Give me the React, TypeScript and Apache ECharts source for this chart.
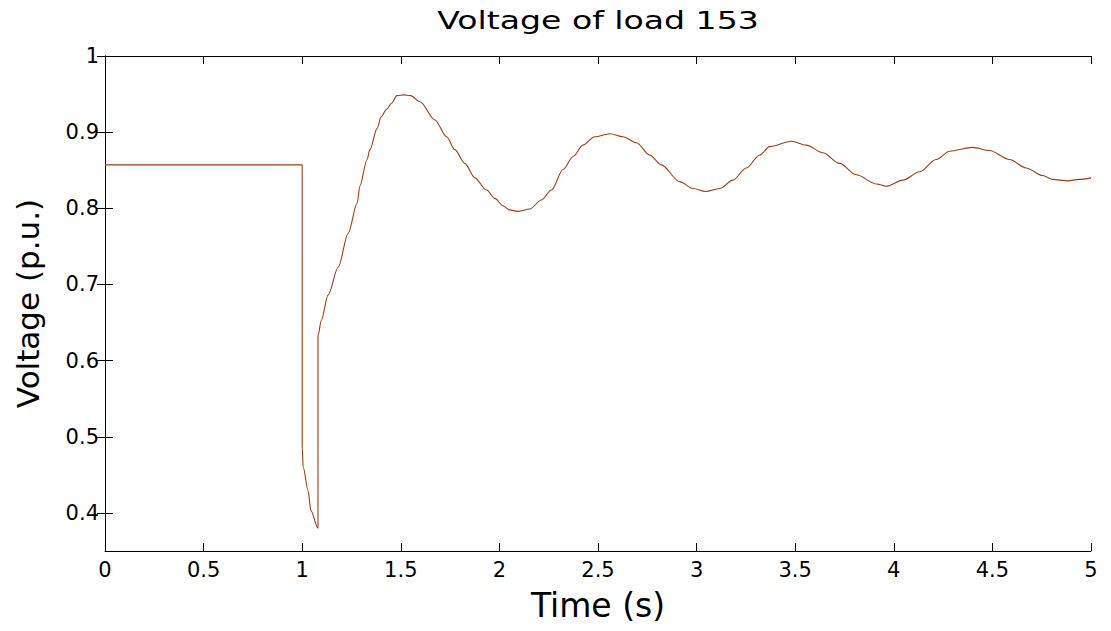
import React, { useEffect, useRef } from "react";
import * as echarts from "echarts";

const timeS: number[] = [
  0, 1.0, 1.0, 1.005, 1.03, 1.044, 1.08, 1.08, 1.097, 1.131, 1.183, 1.233, 1.279, 1.292, 1.329,
  1.343, 1.38, 1.4, 1.428, 1.453, 1.48, 1.515, 1.55, 1.597, 1.673, 1.732, 1.774, 1.825, 1.875,
  1.935, 1.977, 2.02, 2.05, 2.095, 2.154, 2.213, 2.264, 2.323, 2.374, 2.424, 2.483, 2.56, 2.627,
  2.695, 2.762, 2.821, 2.914, 2.982, 3.046, 3.117, 3.184, 3.252, 3.32, 3.37, 3.48, 3.556, 3.64,
  3.725, 3.81, 3.911, 3.962, 4.046, 4.131, 4.215, 4.283, 4.4, 4.485, 4.587, 4.671, 4.755, 4.806,
  4.88, 4.94, 5.0,
];

const voltagePU: number[] = [
  0.857, 0.857, 0.486, 0.46, 0.429, 0.403, 0.38, 0.633, 0.653, 0.686, 0.723, 0.767, 0.807, 0.829,
  0.864, 0.877, 0.905, 0.92, 0.93, 0.938, 0.948, 0.949, 0.948, 0.94, 0.916, 0.894, 0.877, 0.859,
  0.84, 0.824, 0.813, 0.803, 0.798, 0.796, 0.799, 0.811, 0.824, 0.851, 0.868, 0.883, 0.894, 0.898,
  0.894, 0.886, 0.87, 0.857, 0.835, 0.826, 0.822, 0.826, 0.837, 0.853, 0.87, 0.881, 0.888, 0.883,
  0.873, 0.859, 0.844, 0.832, 0.829, 0.837, 0.848, 0.864, 0.875, 0.88, 0.876, 0.864, 0.853, 0.843,
  0.838, 0.836, 0.838, 0.84,
];

const yTicks: number[] = [0.4, 0.5, 0.6, 0.7, 0.8, 0.9, 1.0];
const xTicks: number[] = [0, 0.5, 1, 1.5, 2, 2.5, 3, 3.5, 4, 4.5, 5];

const TITLE = "Voltage of load 153";
const X_NAME = "Time (s)";
const Y_NAME = "Voltage (p.u.)";

const FONT = "'DejaVu Sans', Arial, Helvetica, sans-serif";
const LINE_COLOR = "#a23c0e";

export default function App() {
  const ref = useRef<HTMLDivElement>(null);

  useEffect(() => {
    if (!ref.current) return;
    const chart = echarts.init(ref.current, undefined, { renderer: "svg" });
    const fmt = (v: number) => String(+Number(v).toFixed(2));
    const axisLine = { show: true, lineStyle: { color: "#000", width: 1 } };
    const tickLabel = {
      formatter: fmt,
      fontFamily: FONT,
      fontSize: 21,
      color: "#000",
      textStyle: { fontFamily: FONT, fontSize: 21, color: "#000" },
    };
    chart.setOption({
      animation: false,
      backgroundColor: "#fff",
      textStyle: { fontFamily: FONT },
      graphic: [
        {
          type: "text",
          x: 598,
          y: 21,
          scaleX: 1.38,
          style: {
            text: TITLE,
            fontFamily: FONT,
            fontSize: 24,
            fill: "#000",
            textAlign: "center",
            textVerticalAlign: "middle",
          },
        },
      ],
      grid: { left: 105, right: 20, top: 56, bottom: 80, show: false },
      xAxis: [
        {
          type: "value",
          min: 0,
          max: 5,
          interval: 0.5,
          position: "bottom",
          axisLine,
          axisTick: { show: true, inside: true, length: 8, lineStyle: { color: "#000" } },
          axisLabel: { ...tickLabel, margin: 8 },
          splitLine: { show: false },
          name: X_NAME,
          nameLocation: "middle",
          nameGap: 38,
          nameTextStyle: { fontFamily: FONT, fontSize: 33, color: "#000" },
        },
        {
          type: "value",
          min: 0,
          max: 5,
          interval: 0.5,
          position: "top",
          axisLine,
          axisTick: { show: true, inside: true, length: 8, lineStyle: { color: "#000" } },
          axisLabel: { show: false },
          splitLine: { show: false },
        },
      ],
      yAxis: [
        {
          type: "value",
          min: 0.35,
          max: 1,
          position: "left",
          axisLine,
          axisTick: { show: true, inside: true, length: 8, customValues: yTicks, lineStyle: { color: "#000" } },
          axisLabel: { ...tickLabel, customValues: yTicks, margin: 6 },
          splitLine: { show: false },
          name: Y_NAME,
          nameLocation: "middle",
          nameGap: 62,
          nameRotate: 90,
          nameTextStyle: { fontFamily: FONT, fontSize: 31, color: "#000" },
        },
        {
          type: "value",
          min: 0.35,
          max: 1,
          position: "right",
          axisLine,
          axisTick: { show: true, inside: true, length: 8, customValues: yTicks, lineStyle: { color: "#000" } },
          axisLabel: { show: false },
          splitLine: { show: false },
        },
      ],
      series: [
        {
          type: "line",
          xAxisIndex: 0,
          yAxisIndex: 0,
          data: timeS.map((t, i) => [t, voltagePU[i]]),
          showSymbol: false,
          smooth: 0.3,
          smoothMonotone: "x",
          lineStyle: { color: LINE_COLOR, width: 1.1 },
          itemStyle: { color: LINE_COLOR },
        },
      ],
    });
    return () => chart.dispose();
  }, []);

  return (
    <div
      ref={ref}
      style={{ position: "fixed", left: 0, top: 0, width: 1111, height: 631, background: "#fff" }}
    />
  );
}
